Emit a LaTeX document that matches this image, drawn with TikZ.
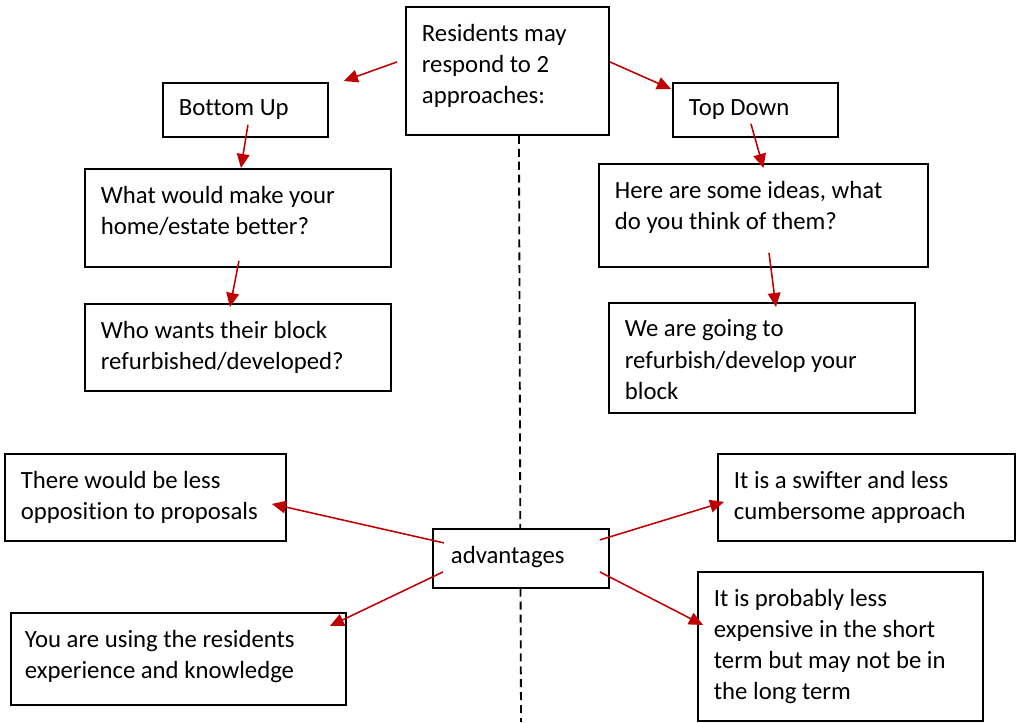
\documentclass[tikz,border=0pt]{standalone}
\usepackage{fontspec}
\setmainfont{Carlito}[Ligatures=NoCommon]
\usetikzlibrary{arrows.meta,calc}
\definecolor{arrowred}{RGB}{192,0,0}
\newcommand{\boxtext}[3]{\parbox[t][#2][t]{#1}{\raggedright #3}}
\begin{document}
\begin{tikzpicture}[x=0.025cm, y=-0.025cm,
  box/.style={draw, line width=1.3pt, fill=white, anchor=north west,
    inner xsep=0.4cm, inner ysep=0.425cm, font=\fontsize{17.6pt}{22.1pt}\selectfont},
  arr/.style={color=arrowred, line width=1.1pt, -{Triangle[length=10pt,width=9pt]}}]
\useasboundingbox (0,0) rectangle (1016,722);
\coordinate (dashend) at (521,722);

% the two approaches
\node[box] (res) at (405,6)
  {\boxtext{4.275cm}{2.35cm}{Residents may\\respond to 2\\approaches:}};
\draw[line width=1.3pt, dash pattern=on 5.7pt off 3.5pt] ($(res.south)+(11.5,0)$) -- (dashend);

\node[box] (bu) at (162,82) {\boxtext{3.325cm}{0.5cm}{Bottom Up}};
\node[box] (td) at (672,82) {\boxtext{3.325cm}{0.5cm}{Top Down}};
\node[box] (q1) at (84,168)
  {\boxtext{6.85cm}{1.6cm}{What would make your\\home/estate better?}};
\node[box] (q2) at (598,163)
  {\boxtext{7.425cm}{1.725cm}{Here are some ideas, what\\do you think of them?}};
\node[box] (q3) at (84,303)
  {\boxtext{6.85cm}{1.325cm}{Who wants their block\\refurbished/developed?}};
\node[box] (q4) at (608,302)
  {\boxtext{6.85cm}{1.9cm}{We are going to\\refurbish/develop your\\block}};

% advantages
\node[box, inner xsep=0.45cm] (adv) at (432,528) {\boxtext{3.5cm}{0.625cm}{advantages}};
\node[box] (a1) at (4,453)
  {\boxtext{6.225cm}{1.325cm}{There would be less\\opposition to proposals}};
\node[box] (a2) at (717,453)
  {\boxtext{6.625cm}{1.325cm}{It is a swifter and less\\cumbersome approach}};
\node[box, inner xsep=0.35cm] (a3) at (10,612)
  {\boxtext{7.675cm}{1.45cm}{You are using the residents\\experience and knowledge}};
\node[box] (a4) at (697,571)
  {\boxtext{6.325cm}{2.875cm}{It is probably less\\expensive in the short\\term but may not be in\\the long term}};

\draw[arr] ($(res.west)+(-8,-9)$) -- ($(bu.north east)+(15,-1)$);
\draw[arr] ($(res.east)+(0,-9)$) -- ($(td.north west)+(-1,7)$);
\draw[arr] ($(bu.south)+(2.5,-13)$) -- ($(q1.north)+(3,0)$);
\draw[arr] ($(q1.south)+(1,-7)$) -- ($(q3.north)+(-8,4)$);
\draw[arr] ($(td.south)+(-4.5,-14)$) -- ($(q2.north)+(0,5)$);
\draw[arr] ($(q2.south)+(5.5,-15)$) -- ($(q4.north)+(14,5)$);
\draw[arr] ($(adv.west)+(12,-15.5)$) -- ($(a1.east)+(-15,6.5)$);
\draw[arr] ($(adv.west)+(11,13.5)$) -- ($(a3.north east)+(-17,14)$);
\draw[arr] ($(adv.east)+(-10,-18.5)$) -- ($(a2.west)+(7,4.5)$);
\draw[arr] ($(adv.east)+(-10,13.5)$) -- ($(a4.north west)+(6,54)$);
\end{tikzpicture}
\end{document}
